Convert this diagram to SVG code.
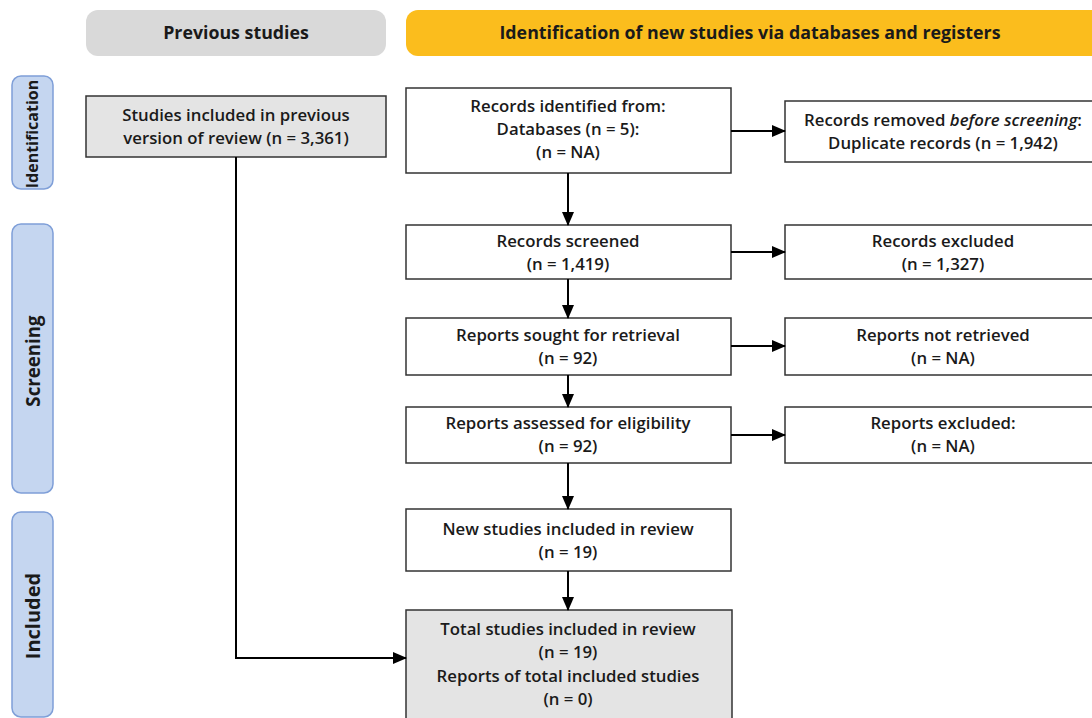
<svg xmlns="http://www.w3.org/2000/svg" width="1092" height="718" viewBox="0 0 1092 718">
<defs>
<marker id="ah" markerWidth="14" markerHeight="12" refX="13" refY="6" orient="auto" markerUnits="userSpaceOnUse">
<path d="M0,0 L14,6 L0,12 Z" fill="#000"/>
</marker>
<style>
text{font-family:"Open Sans","Liberation Sans",sans-serif;font-weight:600;font-size:16.8px;fill:#1a1a1a;text-anchor:middle}
.hdr{font-size:17.8px;font-weight:700}
.box{fill:#fff;stroke:#333;stroke-width:1.5}
.gbox{fill:#e4e4e4;stroke:#333;stroke-width:1.5}
.side{fill:#c5d6f0;stroke:#7f9fd8;stroke-width:1.5}
.stxt{font-size:16px;font-weight:700}
.conn{fill:none;stroke:#000;stroke-width:2}
</style>
</defs>
<rect width="1092" height="718" fill="#fff"/>
<g id="hdr-prev"><rect x="86" y="10" width="300" height="46" rx="12" fill="#d9d9d9"/><text class="hdr" x="236" y="39">Previous studies</text></g>
<g id="hdr-new"><rect x="406" y="10" width="700" height="46" rx="12" fill="#fbbd1d"/><text class="hdr" x="750" y="39">Identification of new studies via databases and registers</text></g>
<g id="side-ident"><rect class="side" x="12" y="76" width="41" height="113" rx="9"/><text class="stxt" transform="translate(38,134) rotate(-90)">Identification</text></g>
<g id="side-screen"><rect class="side" x="12" y="224" width="41" height="269" rx="9"/><text class="stxt" style="font-size:18.7px" transform="translate(39.5,361) rotate(-90)">Screening</text></g>
<g id="side-incl"><rect class="side" x="12" y="512" width="41" height="205" rx="9"/><text class="stxt" style="font-size:20px" transform="translate(40,616) rotate(-90)">Included</text></g>
<g id="prev"><rect class="gbox" x="86" y="96" width="300" height="61"/><text x="236" y="121">Studies included in previous</text><text x="236" y="144">version of review (n = 3,361)</text></g>
<g id="ident"><rect class="box" x="406" y="88" width="325" height="85"/><text x="568" y="112">Records identified from:</text><text x="568" y="135">Databases (n = 5):</text><text x="568" y="158">(n = NA)</text></g>
<g id="removed"><rect class="box" x="785" y="101" width="320" height="61"/><text x="943" y="126">Records removed <tspan font-style="italic">before screening</tspan>:</text><text x="943" y="149">Duplicate records (n = 1,942)</text></g>
<g id="screened"><rect class="box" x="406" y="225" width="325" height="54"/><text x="568" y="247">Records screened</text><text x="568" y="270">(n = 1,419)</text></g>
<g id="excluded"><rect class="box" x="785" y="225" width="320" height="54"/><text x="943" y="247">Records excluded</text><text x="943" y="270">(n = 1,327)</text></g>
<g id="sought"><rect class="box" x="406" y="318" width="325" height="57"/><text x="568" y="341">Reports sought for retrieval</text><text x="568" y="364">(n = 92)</text></g>
<g id="notret"><rect class="box" x="785" y="318" width="320" height="57"/><text x="943" y="341">Reports not retrieved</text><text x="943" y="364">(n = NA)</text></g>
<g id="assessed"><rect class="box" x="406" y="407" width="325" height="56"/><text x="568" y="429">Reports assessed for eligibility</text><text x="568" y="452">(n = 92)</text></g>
<g id="repexcl"><rect class="box" x="785" y="407" width="320" height="56"/><text x="943" y="429">Reports excluded:</text><text x="943" y="452">(n = NA)</text></g>
<g id="newinc"><rect class="box" x="406" y="509" width="325" height="62"/><text x="568" y="535">New studies included in review</text><text x="568" y="558">(n = 19)</text></g>
<g id="total"><rect class="gbox" x="406" y="610" width="326" height="120"/><text x="568" y="635">Total studies included in review</text><text x="568" y="658">(n = 19)</text><text x="568" y="682">Reports of total included studies</text><text x="568" y="705">(n = 0)</text></g>
<g id="connectors" class="conn">
<path d="M568,173 V225" marker-end="url(#ah)"/>
<path d="M568,279 V318" marker-end="url(#ah)"/>
<path d="M568,375 V407" marker-end="url(#ah)"/>
<path d="M568,463 V509" marker-end="url(#ah)"/>
<path d="M568,571 V610" marker-end="url(#ah)"/>
<path d="M731,131 H785" marker-end="url(#ah)"/>
<path d="M731,252 H785" marker-end="url(#ah)"/>
<path d="M731,346 H785" marker-end="url(#ah)"/>
<path d="M731,435 H785" marker-end="url(#ah)"/>
<path d="M236,157 V658 H406" marker-end="url(#ah)"/>
</g>
</svg>
